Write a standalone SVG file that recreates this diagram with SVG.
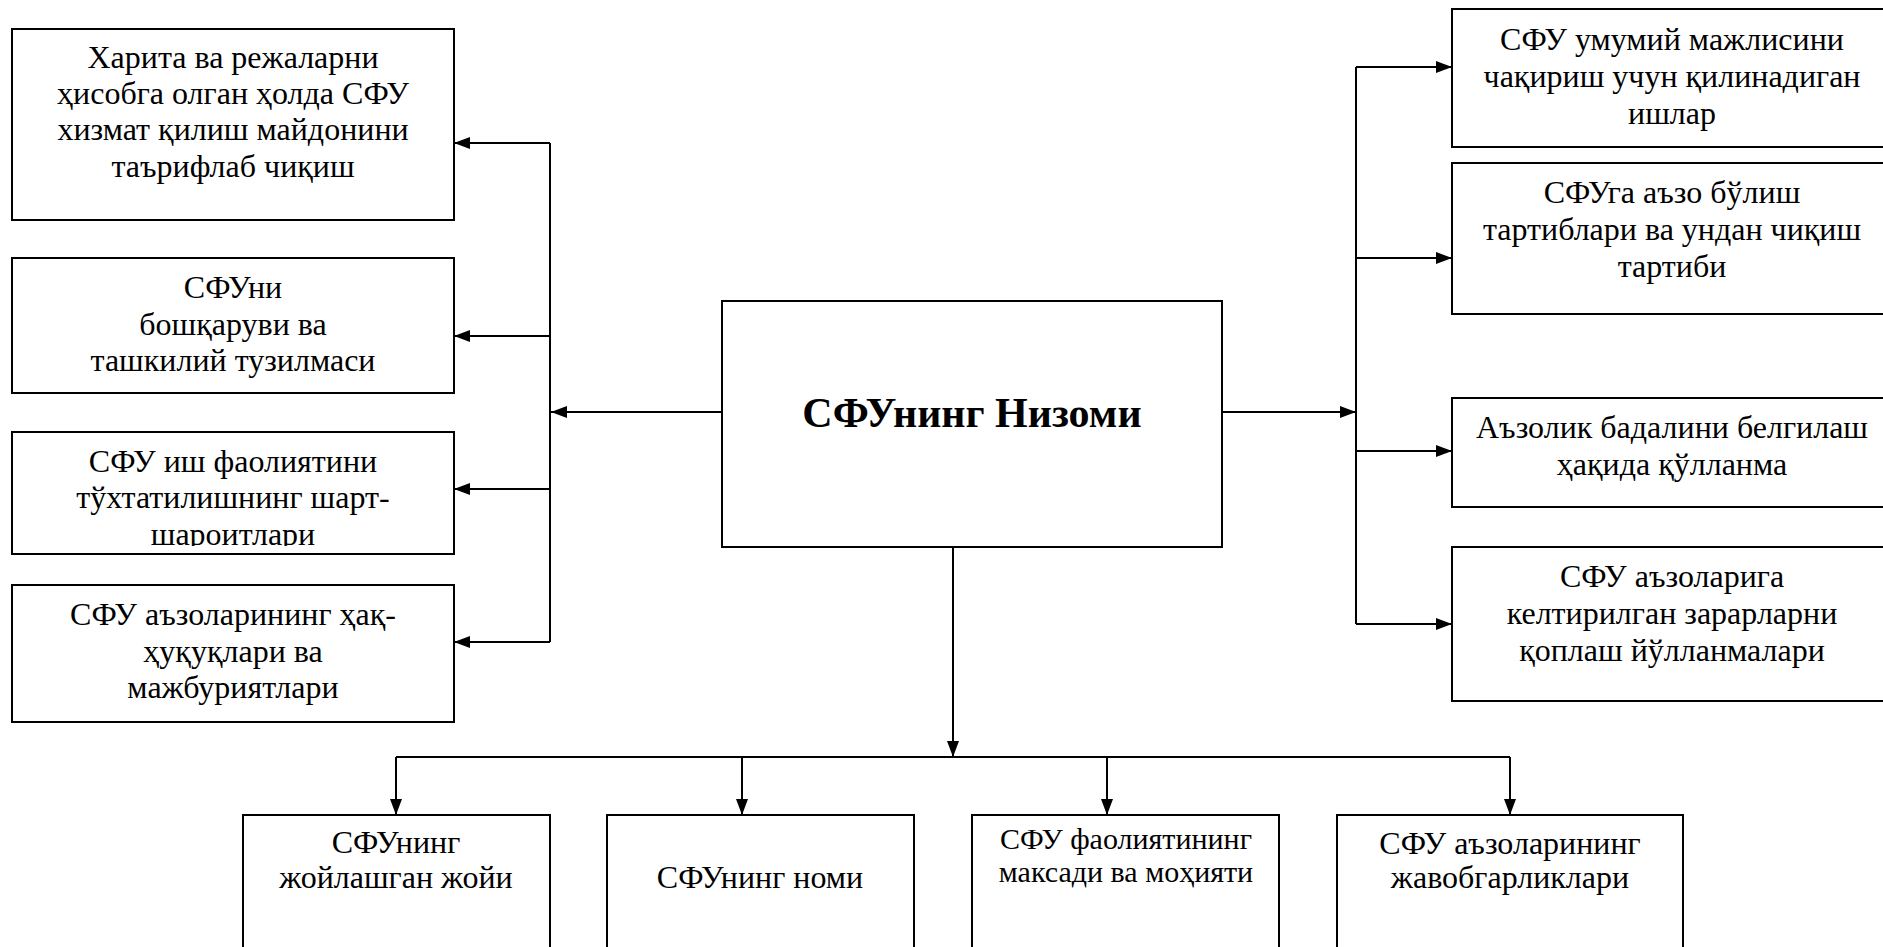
<svg xmlns="http://www.w3.org/2000/svg" width="1883" height="947" viewBox="0 0 1883 947">
<style>
.box{fill:#fff;stroke:#000;stroke-width:2}
text{font-family:'Liberation Serif','Times New Roman','DejaVu Serif',serif;fill:#000;text-anchor:middle}
.t{font-size:32px}
.t30{font-size:30px}
.big{font-size:42px;font-weight:bold}
.c{fill:none;stroke:#000;stroke-width:2}
.a{fill:none;stroke:#000;stroke-width:2;marker-end:url(#ah)}
</style>
<defs>
<marker id="ah" markerUnits="userSpaceOnUse" markerWidth="16" markerHeight="12" refX="16" refY="6" orient="auto">
<path d="M0,0 L16,6 L0,12 z" fill="#000"/>
</marker>
<clipPath id="clipL3"><rect x="12" y="432" width="442" height="114"/></clipPath>
</defs>
<rect width="1883" height="947" fill="#fff"/>

<g id="connectors">
<path class="a" d="M722,412 H551"/>
<path class="c" d="M550,143 V642"/>
<path class="a" d="M550,143 H454"/>
<path class="a" d="M550,336 H454"/>
<path class="a" d="M550,489 H454"/>
<path class="a" d="M550,642 H454"/>
<path class="a" d="M1222,412 H1356"/>
<path class="c" d="M1356,67 V624"/>
<path class="a" d="M1356,67 H1452"/>
<path class="a" d="M1356,258 H1452"/>
<path class="a" d="M1356,451 H1452"/>
<path class="a" d="M1356,624 H1452"/>
<path class="a" d="M953,547 V757"/>
<path class="c" d="M396,757 H1510"/>
<path class="a" d="M396,757 V815"/>
<path class="a" d="M742,757 V815"/>
<path class="a" d="M1107,757 V815"/>
<path class="a" d="M1510,757 V815"/>
</g>

<g id="center" font-family="Liberation Serif, serif">
<rect class="box" x="722" y="301" width="500" height="246"/>
<text class="big" x="972" y="427" font-family="Liberation Serif, serif">СФУнинг Низоми</text>
</g>

<g id="left1">
<rect class="box" x="12" y="29" width="442" height="191"/>
<text class="t" x="233" y="68">Харита ва режаларни</text>
<text class="t" x="233" y="104">ҳисобга олган ҳолда СФУ</text>
<text class="t" x="233" y="140">хизмат қилиш майдонини</text>
<text class="t" x="233" y="177">таърифлаб чиқиш</text>
</g>
<g id="left2">
<rect class="box" x="12" y="258" width="442" height="135"/>
<text class="t" x="233" y="298">СФУни</text>
<text class="t" x="233" y="335">бошқаруви ва</text>
<text class="t" x="233" y="371">ташкилий тузилмаси</text>
</g>
<g id="left3">
<rect class="box" x="12" y="432" width="442" height="122"/>
<g clip-path="url(#clipL3)">
<text class="t" x="233" y="472">СФУ иш фаолиятини</text>
<text class="t" x="233" y="508">тўхтатилишнинг шарт-</text>
<text class="t" x="233" y="545">шароитлари</text>
</g>
</g>
<g id="left4">
<rect class="box" x="12" y="585" width="442" height="137"/>
<text class="t" x="233" y="625">СФУ аъзоларининг ҳақ-</text>
<text class="t" x="233" y="662">ҳуқуқлари ва</text>
<text class="t" x="233" y="698">мажбуриятлари</text>
</g>

<g id="right1">
<rect class="box" x="1452" y="9" width="450" height="138"/>
<text class="t" x="1672" y="50">СФУ умумий мажлисини</text>
<text class="t" x="1672" y="87">чақириш учун қилинадиган</text>
<text class="t" x="1672" y="124">ишлар</text>
</g>
<g id="right2">
<rect class="box" x="1452" y="163" width="450" height="151"/>
<text class="t" x="1672" y="203">СФУга аъзо бўлиш</text>
<text class="t" x="1672" y="240">тартиблари ва ундан чиқиш</text>
<text class="t" x="1672" y="277">тартиби</text>
</g>
<g id="right3">
<rect class="box" x="1452" y="398" width="450" height="109"/>
<text class="t" x="1672" y="438">Аъзолик бадалини белгилаш</text>
<text class="t" x="1672" y="475">ҳақида қўлланма</text>
</g>
<g id="right4">
<rect class="box" x="1452" y="547" width="450" height="154"/>
<text class="t" x="1672" y="587">СФУ аъзоларига</text>
<text class="t" x="1672" y="624">келтирилган зарарларни</text>
<text class="t" x="1672" y="661">қоплаш йўлланмалари</text>
</g>

<g id="bottom1">
<rect class="box" x="243" y="815" width="307" height="150"/>
<text class="t" x="396" y="853">СФУнинг</text>
<text class="t" x="396" y="888">жойлашган жойи</text>
</g>
<g id="bottom2">
<rect class="box" x="607" y="815" width="307" height="150"/>
<text class="t" x="760" y="888">СФУнинг номи</text>
</g>
<g id="bottom3">
<rect class="box" x="972" y="815" width="307" height="150"/>
<text class="t30" x="1126" y="849">СФУ фаолиятининг</text>
<text class="t30" x="1126" y="882">максади ва моҳияти</text>
</g>
<g id="bottom4">
<rect class="box" x="1337" y="815" width="346" height="150"/>
<text class="t" x="1510" y="854">СФУ аъзоларининг</text>
<text class="t" x="1510" y="888">жавобгарликлари</text>
</g>
</svg>
